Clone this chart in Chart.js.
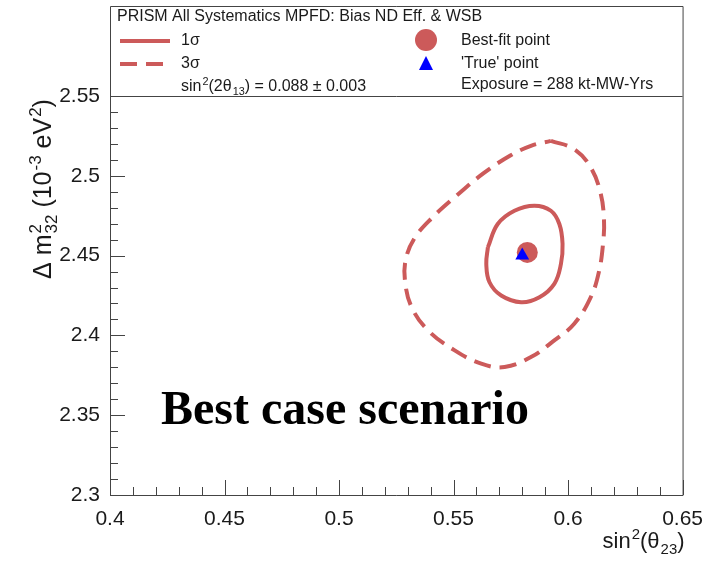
<!DOCTYPE html>
<html>
<head>
<meta charset="utf-8">
<script src="https://cdn.jsdelivr.net/npm/chart.js@4.4.1/dist/chart.umd.min.js"></script>
<style>
  html, body { margin: 0; padding: 0; background: #fff; }
  #wrap { width: 715px; height: 565px; }
</style>
</head>
<body>
<div id="wrap"><canvas id="contourChart" width="715" height="565"></canvas></div>
<script>
// Contour data
const sigma1X = [0.5650, 0.5693, 0.5766, 0.5853, 0.5925, 0.5962, 0.5976, 0.5969, 0.5940, 0.5875, 0.5795, 0.5708, 0.5657, 0.5643, 0.5650];
const sigma1Y = [2.4552, 2.4698, 2.4781, 2.4813, 2.4781, 2.4698, 2.4573, 2.4448, 2.4323, 2.4239, 2.4208, 2.4250, 2.4333, 2.4448, 2.4552];

const sigma3X = [0.5925, 0.6027, 0.6099, 0.6143, 0.6157, 0.6154, 0.6136, 0.6099, 0.6027, 0.5940, 0.5838, 0.5723, 0.5621, 0.5505, 0.5389, 0.5317, 0.5288, 0.5292, 0.5330, 0.5405, 0.5510, 0.5630, 0.5748, 0.5838, 0.5925];
const sigma3Y = [2.5219, 2.5167, 2.5052, 2.4886, 2.4719, 2.4594, 2.4406, 2.4239, 2.4073, 2.3969, 2.3864, 2.3802, 2.3823, 2.3906, 2.4031, 2.4177, 2.4344, 2.4480, 2.4610, 2.4735, 2.4872, 2.5015, 2.5127, 2.5188, 2.5219];

const bestFit = [0.5822, 2.452];
const truePoint = [0.580, 2.450];

// Axis ticks
const xMajor = [0.4, 0.45, 0.5, 0.55, 0.6, 0.65];
const yMajor = [2.3, 2.35, 2.4, 2.45, 2.5, 2.55];

const contourColor = "#cc5a5a";
const frameColor = "#444";
const textColor = "#1a1a1a";
const FONT = "'Liberation Sans', Arial, Helvetica, sans-serif";

const toPoints = (xs, ys) => xs.map((x, i) => ({ x, y: ys[i] }));
const isMajor = (v, list) => list.some(m => Math.abs(m - v) < 1e-6);
const fmt = v => String(parseFloat(v.toFixed(2)));

// draw text with super/subscripts; parts = [{t}, {sup}, {sub}, {sup, sub}]
const richWidth = (ctx, parts, size) => {
  let w = 0;
  parts.forEach(p => {
    if (p.t !== undefined) {
      ctx.font = `${size}px ${FONT}`;
      w += ctx.measureText(p.t).width;
    } else {
      ctx.font = `${size * 0.68}px ${FONT}`;
      w += Math.max(p.sup ? ctx.measureText(p.sup).width : 0, p.sub ? ctx.measureText(p.sub).width : 0) + 1;
    }
  });
  return w;
};

const drawRich = (ctx, x, y, parts, size) => {
  ctx.textAlign = "left";
  ctx.textBaseline = "alphabetic";
  let cx = x;
  parts.forEach(p => {
    if (p.t !== undefined) {
      ctx.font = `${size}px ${FONT}`;
      ctx.fillText(p.t, cx, y);
      cx += ctx.measureText(p.t).width;
    } else {
      ctx.font = `${size * 0.68}px ${FONT}`;
      let w = 0;
      if (p.sup) { ctx.fillText(p.sup, cx + 1, y - size * 0.4); w = Math.max(w, ctx.measureText(p.sup).width); }
      if (p.sub) { ctx.fillText(p.sub, cx + 1, y + size * 0.25); w = Math.max(w, ctx.measureText(p.sub).width); }
      cx += w + 1;
    }
  });
};

// Frame, ROOT-style inner ticks, legend box and labels
const decorPlugin = {
  id: "decor",
  afterDraw(chart) {
    const { ctx, chartArea: ca, scales } = chart;
    const top = 6;
    ctx.save();
    ctx.strokeStyle = frameColor;
    ctx.lineWidth = 1;

    // frame + legend box
    ctx.beginPath();
    ctx.moveTo(ca.left + 0.5, top + 0.5);
    ctx.lineTo(ca.right + 0.5, top + 0.5);
    ctx.lineTo(ca.right + 0.5, ca.bottom + 0.5);
    ctx.lineTo(ca.left + 0.5, ca.bottom + 0.5);
    ctx.closePath();
    ctx.moveTo(ca.left, ca.top + 0.5);
    ctx.lineTo(ca.right, ca.top + 0.5);
    ctx.stroke();

    // ticks
    ctx.beginPath();
    scales.x.ticks.forEach(t => {
      const px = Math.round(scales.x.getPixelForValue(t.value)) + 0.5;
      const len = isMajor(t.value, xMajor) ? 15 : 8;
      ctx.moveTo(px, ca.bottom);
      ctx.lineTo(px, ca.bottom - len);
    });
    scales.y.ticks.forEach(t => {
      const py = Math.round(scales.y.getPixelForValue(t.value)) + 0.5;
      const len = isMajor(t.value, yMajor) ? 15 : 8;
      ctx.moveTo(ca.left, py);
      ctx.lineTo(ca.left + len, py);
    });
    ctx.stroke();

    // legend
    ctx.fillStyle = textColor;
    ctx.font = `16px ${FONT}`;
    ctx.textBaseline = "middle";
    ctx.textAlign = "left";
    ctx.fillText("PRISM All Systematics MPFD: Bias ND Eff. & WSB", 117, 17);
    ctx.fillText("1\u03c3", 181, 41);
    ctx.fillText("3\u03c3", 181, 64);
    ctx.fillText("Best-fit point", 461, 41);
    ctx.fillText("'True' point", 461, 64);
    ctx.fillText("Exposure = 288 kt-MW-Yrs", 461, 85);
    drawRich(ctx, 181, 91, [{ t: "sin" }, { sup: "2" }, { t: "(2\u03b8" }, { sub: "13" }, { t: ") = 0.088 \u00b1 0.003" }], 16);

    ctx.strokeStyle = contourColor;
    ctx.lineWidth = 4;
    ctx.beginPath();
    ctx.moveTo(120, 41);
    ctx.lineTo(170, 41);
    ctx.stroke();
    ctx.setLineDash([17, 9]);
    ctx.beginPath();
    ctx.moveTo(120, 64);
    ctx.lineTo(172, 64);
    ctx.stroke();
    ctx.setLineDash([]);

    ctx.fillStyle = contourColor;
    ctx.beginPath();
    ctx.arc(426, 40, 11, 0, Math.PI * 2);
    ctx.fill();
    ctx.fillStyle = "#0000ff";
    ctx.beginPath();
    ctx.moveTo(426, 56);
    ctx.lineTo(433, 70);
    ctx.lineTo(419, 70);
    ctx.closePath();
    ctx.fill();

    // axis titles
    ctx.fillStyle = textColor;
    const xTitle = [{ t: "sin" }, { sup: "2" }, { t: "(\u03b8" }, { sub: "23" }, { t: ")" }];
    const xw = richWidth(ctx, xTitle, 22);
    drawRich(ctx, ca.right + 2 - xw, 548, xTitle, 22);

    const yTitle = [{ t: "\u0394 m" }, { sup: "2", sub: "32" }, { t: " (10" }, { sup: "-3" }, { t: " eV" }, { sup: "2" }, { t: ")" }];
    const yw = richWidth(ctx, yTitle, 25);
    ctx.save();
    ctx.translate(51, 189);
    ctx.rotate(-Math.PI / 2);
    drawRich(ctx, -yw / 2, 0, yTitle, 25);
    ctx.restore();

    // annotation
    ctx.font = `bold 48px 'Liberation Serif', 'Times New Roman', serif`;
    ctx.textAlign = "left";
    ctx.textBaseline = "alphabetic";
    ctx.fillStyle = "#000";
    ctx.fillText("Best case scenario", 161, 424);
    ctx.restore();
  }
};

new Chart(document.getElementById("contourChart"), {
  type: "scatter",
  data: {
    datasets: [
      {
        label: "'True' point",
        data: [{ x: truePoint[0], y: truePoint[1] }],
        pointStyle: "triangle",
        pointRadius: 8,
        backgroundColor: "#0000ff",
        borderWidth: 0,
        order: 0,
      },
      {
        label: "Best-fit point",
        data: [{ x: bestFit[0], y: bestFit[1] }],
        pointStyle: "circle",
        pointRadius: 10.5,
        backgroundColor: contourColor,
        borderWidth: 0,
        order: 1,
      },
      {
        label: "1\u03c3",
        data: toPoints(sigma1X, sigma1Y),
        showLine: true,
        borderColor: contourColor,
        borderWidth: 4,
        tension: 0.4,
        pointRadius: 0,
        order: 2,
      },
      {
        label: "3\u03c3",
        data: toPoints(sigma3X, sigma3Y),
        showLine: true,
        borderColor: contourColor,
        borderWidth: 4,
        borderDash: [17, 9],
        tension: 0.4,
        pointRadius: 0,
        order: 3,
      },
    ],
  },
  options: {
    responsive: false,
    animation: false,
    layout: { padding: { left: 0, right: 30, top: 96, bottom: 0 } },
    plugins: {
      legend: { display: false },
      tooltip: { enabled: false },
    },
    scales: {
      x: {
        type: "linear",
        min: 0.4,
        max: 0.65,
        afterFit: (scale) => { scale.height = 70; },
        grid: { display: false, drawTicks: false },
        border: { display: false },
        ticks: {
          stepSize: 0.01,
          autoSkip: false,
          maxRotation: 0,
          padding: 12,
          color: textColor,
          font: { family: FONT, size: 21 },
          callback: (v) => (isMajor(v, xMajor) ? fmt(v) : ""),
        },
      },
      y: {
        type: "linear",
        min: 2.3,
        max: 2.55,
        afterFit: (scale) => { scale.width = 110; },
        grid: { display: false, drawTicks: false },
        border: { display: false },
        ticks: {
          stepSize: 0.01,
          autoSkip: false,
          padding: 10,
          color: textColor,
          font: { family: FONT, size: 21 },
          callback: (v) => (isMajor(v, yMajor) ? fmt(v) : ""),
        },
      },
    },
  },
  plugins: [decorPlugin],
});
</script>
</body>
</html>
